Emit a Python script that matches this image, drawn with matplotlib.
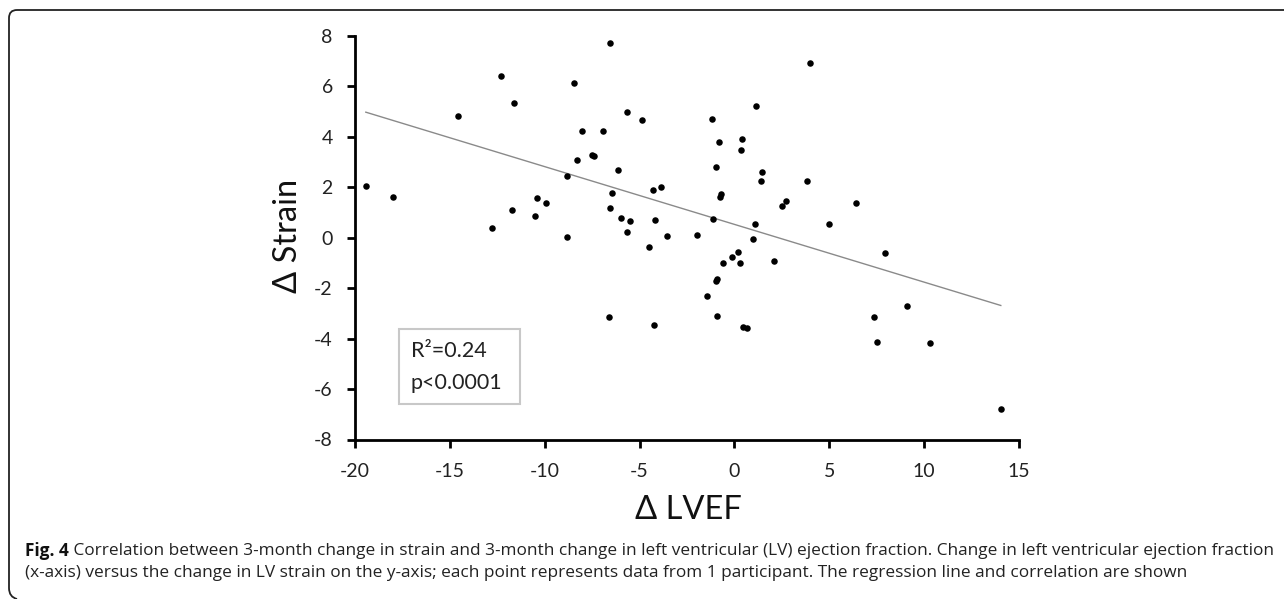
import numpy as np
import matplotlib
matplotlib.use("Agg")
import matplotlib.pyplot as plt
from matplotlib.path import Path
from matplotlib.patches import PathPatch, Rectangle

plt.rcParams["axes.unicode_minus"] = False

# ---- data ------------------------------------------------------------------
delta_lvef = [
    -19.43, -18.01, -14.56, -12.30, -11.63, -12.78, -11.74, -10.40, -9.92, -10.49,
    -8.85, -8.85, -8.44, -8.30, -8.04, -7.51, -7.38, -6.93, -6.58, -6.45,
    -6.58, 3.96, -5.64, -4.88, -1.18, 1.14, -0.80, 0.40, 0.37, -6.12,
    -0.97, 1.46, 1.42, 3.82, -4.29, -3.88, -0.73, -0.76, 2.74, 2.50,
    6.43, -5.99, -5.53, -4.18, -1.15, 1.07, 5.00, -5.66, -3.53, -1.98,
    1.00, -4.48, 7.92, 0.21, -0.11, -0.60, 0.28, 2.09, -0.94, -0.96,
    -1.43, 9.12, -6.63, -0.94, 7.34, -4.25, 0.47, 0.68, 7.50, 10.29,
    14.04,
]
delta_strain = [
    2.04, 1.60, 4.81, 6.40, 5.33, 0.37, 1.12, 1.58, 1.39, 0.87,
    0.02, 2.46, 6.14, 3.08, 4.25, 3.27, 3.23, 4.25, 7.72, 1.77,
    1.18, 6.92, 5.00, 4.67, 4.72, 5.21, 3.80, 3.93, 3.47, 2.70,
    2.82, 2.61, 2.27, 2.25, 1.89, 2.01, 1.75, 1.60, 1.44, 1.27,
    1.36, 0.77, 0.67, 0.71, 0.74, 0.56, 0.53, 0.24, 0.08, 0.11,
    -0.03, -0.37, -0.61, -0.58, -0.78, -1.02, -1.02, -0.94, -1.63, -1.72,
    -2.29, -2.71, -3.15, -3.12, -3.15, -3.45, -3.53, -3.57, -4.13, -4.19,
    -6.79,
]
fit_slope = -0.229
fit_intercept = 0.53
stats_lines = ["R\u00b2=0.24", "p<0.0001"]

x_ticks = [-20, -15, -10, -5, 0, 5, 10, 15]
y_ticks = [-8, -6, -4, -2, 0, 2, 4, 6, 8]

caption_bold = "Fig. 4"
caption_1 = (" Correlation between 3-month change in strain and 3-month change in left "
             "ventricular (LV) ejection fraction. Change in left ventricular ejection fraction")
caption_2 = ("(x-axis) versus the change in LV strain on the y-axis; each point represents "
             "data from 1 participant. The regression line and correlation are shown")

W, H = 1284, 599
CHART_FONT = ["Lato", "DejaVu Sans"]
CAP_FONT = ["Open Sans", "DejaVu Sans"]

fig = plt.figure(figsize=(W / 100, H / 100), dpi=100)
fig.patch.set_facecolor("white")


def fx(px):
    return px / W


def fy(py):
    return 1 - py / H


ax = fig.add_axes([fx(355), fy(439.5), fx(1019) - fx(355), fy(36) - fy(439.5)])

ax.scatter(delta_lvef, delta_strain, s=22, color="black", zorder=3, linewidths=0)

xs = np.array([min(delta_lvef), max(delta_lvef)])
ax.plot(xs, fit_slope * xs + fit_intercept, color="#8a8a8a", lw=1.0, zorder=2)

ax.set_xlim(-20, 15)
ax.set_ylim(-8, 8)
ax.set_xticks(x_ticks)
ax.set_yticks(y_ticks)
for s in ["top", "right"]:
    ax.spines[s].set_visible(False)
for s in ["left", "bottom"]:
    ax.spines[s].set_linewidth(2.0)
ax.tick_params(direction="out", length=6, width=2.0, labelsize=14)
ax.tick_params(axis="y", pad=10)
ax.tick_params(axis="x", pad=11)
for lab in ax.get_xticklabels() + ax.get_yticklabels():
    lab.set_family(CHART_FONT)
    lab.set_color("#222222")

# stats box
ax.add_patch(Rectangle((-17.67, -6.59), 6.39, 2.98, fill=False,
                       edgecolor="#c8c8c8", lw=1.5, zorder=1))
ax.text(-17.05, -4.5, stats_lines[0], fontsize=15.5, family=CHART_FONT,
        va="center", ha="left", color="#222222")
ax.text(-17.05, -5.75, stats_lines[1], fontsize=15.5, family=CHART_FONT,
        va="center", ha="left", color="#222222")

# axis titles
fig.text(fx(288), fy(236), "\u0394 Strain", rotation=90, fontsize=23.5,
         family=CHART_FONT, ha="center", va="center", color="#111111")
fig.text(fx(688), fy(510), "\u0394 LVEF", fontsize=23.5,
         family=CHART_FONT, ha="center", va="center", color="#111111")

# caption
t_bold = fig.text(fx(25), fy(551), caption_bold, fontsize=12.4, weight="bold",
                  family=CAP_FONT, ha="left", va="center", color="#111111")
fig.canvas.draw()
bb = t_bold.get_window_extent(fig.canvas.get_renderer())
fig.text(bb.x1 / W, fy(551), caption_1, fontsize=12.4, family=CAP_FONT,
         ha="left", va="center", color="#222222")
fig.text(fx(25), fy(573), caption_2, fontsize=12.4, family=CAP_FONT,
         ha="left", va="center", color="#222222")

# border (top and left edges with rounded corners)
pts = [(W, 10), (17, 10), (9, 10), (9, 18), (9, 588), (9, 597), (17, 599)]
codes = [Path.MOVETO, Path.LINETO, Path.CURVE3, Path.CURVE3,
         Path.LINETO, Path.CURVE3, Path.CURVE3]
border = Path([(fx(x), fy(y)) for x, y in pts], codes)
fig.add_artist(PathPatch(border, transform=fig.transFigure, fill=False,
                         edgecolor="#222222", lw=1.3))

fig.savefig("out.png", dpi=100)
